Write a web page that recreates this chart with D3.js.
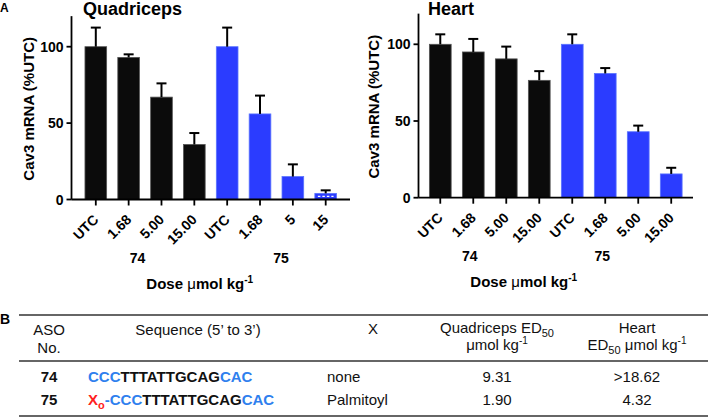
<!DOCTYPE html>
<html><head><meta charset="utf-8">
<script src="https://cdn.jsdelivr.net/npm/d3@7"></script>
<style>
body{margin:0;background:#fff;}
svg{display:block;font-family:"Liberation Sans",Arial,Helvetica,sans-serif;}
</style></head>
<body>
<svg id="c" width="708" height="417"></svg>
<script>
// ---- data ----
const quadLabels = ["UTC","1.68","5.00","15.00","UTC","1.68","5","15"];
const quadValues = [100, 93, 67, 36, 100, 56, 15, 4];
const quadSem    = [12.5, 2, 9, 7.5, 12.5, 12, 8, 2];
const heartLabels = ["UTC","1.68","5.00","15.00","UTC","1.68","5.00","15.00"];
const heartValues = [100, 95, 90.5, 76.5, 100, 81, 43, 15.5];
const heartSem    = [6.5, 8.5, 8, 6, 6.5, 3.5, 4, 4];
const groupOf = [0,0,0,0,1,1,1,1];
const groupNames = ["74","75"];
const yTicks = [0, 50, 100];
const tableHead = ["ASO", "Sequence (5\u2019 to 3\u2019)", "X", "Quadriceps ED50", "Heart"];
const asoNo = ["74", "75"];
const xGroup = ["none", "Palmitoyl"];
const quadED50 = ["9.31", "1.90"];
const heartED50 = [">18.62", "4.32"];

const svg = d3.select("#c");
const BLACK = "#0b0b0b", BLUE = "#2b3cff", BLUE_EDGE = "#5a74ff";

function panel(opt){
  const g = svg.append("g");
  const idx = d3.range(opt.values.length);
  const x = d3.scaleBand().domain(idx).range([opt.x0, opt.x1]).paddingInner(0.34).paddingOuter(opt.po);
  const y = d3.scaleLinear().domain([0,120]).range([opt.y0, opt.yTop]);
  // bars
  g.selectAll("rect.bar").data(idx).join("rect")
    .attr("x", i=>x(i)).attr("width", x.bandwidth())
    .attr("y", i=>y(opt.values[i])).attr("height", i=>y(0)-y(opt.values[i]))
    .attr("fill", i=>groupOf[i] ? BLUE : BLACK)
    .attr("stroke", i=>groupOf[i] ? BLUE_EDGE : "#555").attr("stroke-width", 0.8);
  // error bars (upper)
  const eb = g.selectAll("g.eb").data(idx).join("g");
  eb.append("line").attr("x1", i=>x(i)+x.bandwidth()/2).attr("x2", i=>x(i)+x.bandwidth()/2)
    .attr("y1", i=>y(opt.values[i])).attr("y2", i=>y(opt.values[i]+opt.sem[i]))
    .attr("stroke", "#000").attr("stroke-width", 2);
  eb.append("line").attr("x1", i=>x(i)+x.bandwidth()/2-5).attr("x2", i=>x(i)+x.bandwidth()/2+5)
    .attr("y1", i=>y(opt.values[i]+opt.sem[i])).attr("y2", i=>y(opt.values[i]+opt.sem[i]))
    .attr("stroke", "#000").attr("stroke-width", 2);
  if(opt.hatchLast){
    const i = idx.length-1;
    g.append("line").attr("x1", x(i)+3).attr("x2", x(i)+x.bandwidth()-3)
      .attr("y1", y(opt.values[i]/2)).attr("y2", y(opt.values[i]/2))
      .attr("stroke", "#fff").attr("stroke-width", 1.3).attr("stroke-dasharray", "2.5,2");
  }
  // axes
  g.append("line").attr("x1", opt.x0).attr("x2", opt.x0).attr("y1", y(0)).attr("y2", y(120))
    .attr("stroke","#000").attr("stroke-width",1.8);
  g.append("line").attr("x1", opt.x0).attr("x2", opt.x1).attr("y1", y(0)).attr("y2", y(0))
    .attr("stroke","#000").attr("stroke-width",1.8);
  g.selectAll("line.yt").data(yTicks).join("line").attr("x1", opt.x0-5).attr("x2", opt.x0)
    .attr("y1", d=>y(d)).attr("y2", d=>y(d)).attr("stroke","#000").attr("stroke-width",1.8);
  g.selectAll("text.yl").data(yTicks).join("text").attr("x", opt.x0-8).attr("y", d=>y(d))
    .attr("dy","0.36em").attr("text-anchor","end").attr("font-weight","bold").attr("font-size",14)
    .text(d=>d);
  g.selectAll("line.xt").data(idx).join("line")
    .attr("x1", i=>x(i)+x.bandwidth()/2).attr("x2", i=>x(i)+x.bandwidth()/2)
    .attr("y1", y(0)).attr("y2", y(0)+6).attr("stroke","#000").attr("stroke-width",1.8);
  g.selectAll("text.xl").data(idx).join("text")
    .attr("transform", i=>`translate(${x(i)+x.bandwidth()/2+3.5},${y(0)+21}) rotate(-45)`)
    .attr("text-anchor","end").attr("font-weight","bold").attr("font-size",14)
    .text(i=>opt.labels[i]);
  // group labels
  groupNames.forEach((gn, k)=>{
    const members = idx.filter(i=>groupOf[i]===k);
    const cx = d3.mean(members, i=>x(i)+x.bandwidth()/2) + opt.gOff[k];
    g.append("text").attr("x", cx).attr("y", opt.y0+63).attr("text-anchor","middle")
      .attr("font-weight","bold").attr("font-size",14).text(gn);
  });
  const dose = g.append("text").attr("x", (opt.x0+opt.x1)/2 + opt.doseOff).attr("y", opt.y0+89)
    .attr("text-anchor","middle").attr("font-weight","bold").attr("font-size",15);
  dose.append("tspan").text("Dose ");
  dose.append("tspan").attr("font-weight","normal").text("\u03bc");
  dose.append("tspan").text("mol kg");
  dose.append("tspan").attr("dy",-6).attr("font-size",10).text("-1");
  // y label
  g.append("text").attr("transform", `translate(${opt.ylabX},${(y(0)+y(120))/2 + 1}) rotate(-90)`)
    .attr("text-anchor","middle").attr("font-weight","bold").attr("font-size",15)
    .text("Cav3 mRNA (%UTC)");
  // title
  g.append("text").attr("x", opt.titleX).attr("y", 15).attr("font-weight","bold").attr("font-size",18)
    .text(opt.title);
}

panel({x0:71.5, x1:350, po:0.41, y0:199.5, yTop:199.5-120*1.528, values:quadValues, sem:quadSem,
  labels:quadLabels, title:"Quadriceps", titleX:83, ylabX:34, gOff:[-7.5,4.5], doseOff:-11, hatchLast:true});
panel({x0:418.5, x1:693, po:0.33, y0:197.7, yTop:197.7-120*1.534, values:heartValues, sem:heartSem,
  labels:heartLabels, title:"Heart", titleX:428, ylabX:379, gOff:[-20,-19.5], doseOff:-32, hatchLast:false});

svg.append("text").attr("x",0).attr("y",12).attr("font-weight","bold").attr("font-size",12).text("A");
svg.append("text").attr("x",0).attr("y",324).attr("font-weight","bold").attr("font-size",14).text("B");

// ---- table ----
const T = svg.append("g").attr("font-size",15).attr("fill","#111");
[315, 361, 416].forEach(yy=>{
  T.append("line").attr("x1",19).attr("x2",708).attr("y1",yy).attr("y2",yy).attr("stroke","#333").attr("stroke-width",1.4);
});
const colX = {aso:49, seq:198, xcol:373, quad:497, heart:637};
T.append("text").attr("x",colX.aso).attr("y",335).attr("text-anchor","middle").text(tableHead[0]);
T.append("text").attr("x",colX.aso).attr("y",353).attr("text-anchor","middle").text("No.");
T.append("text").attr("x",colX.seq).attr("y",335).attr("text-anchor","middle").text(tableHead[1]);
T.append("text").attr("x",colX.xcol).attr("y",334).attr("text-anchor","middle").text(tableHead[2]);
const qh = T.append("text").attr("x",colX.quad).attr("y",333).attr("text-anchor","middle");
qh.append("tspan").text("Quadriceps ED");
qh.append("tspan").attr("dy",4).attr("font-size",11).text("50");
const qh2 = T.append("text").attr("x",colX.quad).attr("y",350).attr("text-anchor","middle");
qh2.append("tspan").text("\u03bcmol kg");
qh2.append("tspan").attr("dy",-6).attr("font-size",10).text("-1");
T.append("text").attr("x",colX.heart).attr("y",333).attr("text-anchor","middle").text(tableHead[4]);
const hh2 = T.append("text").attr("x",colX.heart).attr("y",350).attr("text-anchor","middle");
hh2.append("tspan").text("ED");
hh2.append("tspan").attr("dy",4).attr("font-size",11).text("50");
hh2.append("tspan").attr("dy",-4).text(" \u03bcmol kg");
hh2.append("tspan").attr("dy",-6).attr("font-size",10).text("-1");

const rowY = [382, 405];
const SEQBLUE = "#2f7fee", RED = "#ff2020";
rowY.forEach((yy, r)=>{
  T.append("text").attr("x",colX.aso).attr("y",yy).attr("text-anchor","middle").attr("font-weight","bold").text(asoNo[r]);
  const s = T.append("text").attr("x",88).attr("y",yy).attr("font-weight","bold");
  if(r===1){
    s.append("tspan").attr("fill",RED).text("X");
    s.append("tspan").attr("fill",RED).attr("dy",4).attr("font-size",11).text("o");
    s.append("tspan").attr("fill",SEQBLUE).attr("dy",-4).text("-");
  }
  s.append("tspan").attr("fill",SEQBLUE).text("CCC");
  s.append("tspan").attr("fill","#111").text("TTTATTGCAG");
  s.append("tspan").attr("fill",SEQBLUE).text("CAC");
  T.append("text").attr("x",327).attr("y",yy).text(xGroup[r]);
  T.append("text").attr("x",colX.quad).attr("y",yy).attr("text-anchor","middle").text(quadED50[r]);
  T.append("text").attr("x",colX.heart).attr("y",yy).attr("text-anchor","middle").text(heartED50[r]);
});
</script>
</body></html>
